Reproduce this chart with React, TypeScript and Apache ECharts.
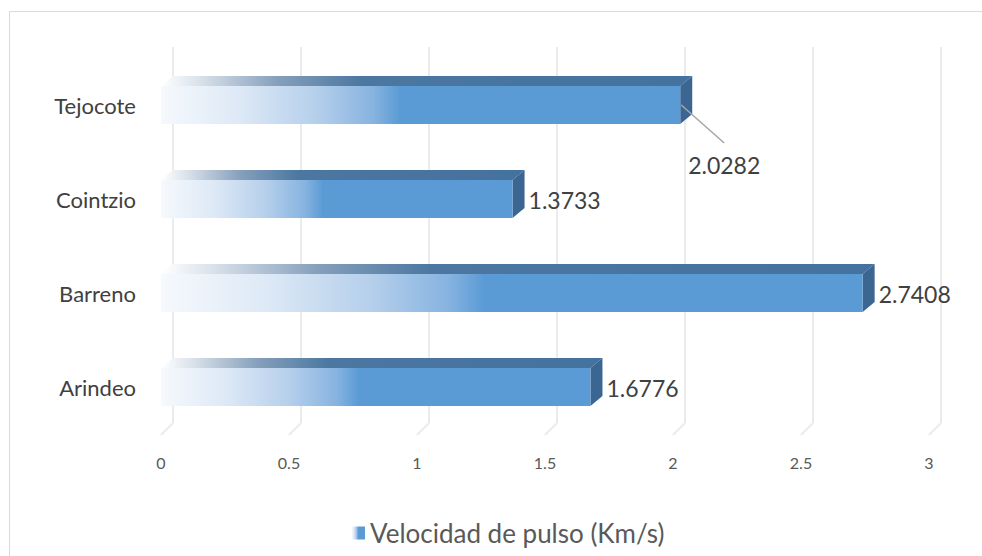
import React, { useEffect, useRef } from "react";
import * as echarts from "echarts";

const CATEGORIES = ["Arindeo", "Barreno", "Cointzio", "Tejocote"];
const VALUES = [1.6776, 2.7408, 1.3733, 2.0282];
const TICKS = [0, 0.5, 1, 1.5, 2, 2.5, 3];
const SERIES_NAME = "Velocidad de pulso (Km/s)";
const LEADER_CATEGORY = "Tejocote";

const FONT = "Lato, 'Open Sans', sans-serif";
const DEPTH_X = 12;
const DEPTH_Y = -10;
const BAR_H = 38;

const frontGradient = () =>
  new echarts.graphic.LinearGradient(0, 0, 1, 0, [
    { offset: 0, color: "#F6F9FD" },
    { offset: 0.15, color: "#DDE9F6" },
    { offset: 0.3, color: "#B5CFEB" },
    { offset: 0.41, color: "#86B3E0" },
    { offset: 0.46, color: "#5B9BD5" },
    { offset: 1, color: "#5B9BD5" },
  ]);

const topGradient = () =>
  new echarts.graphic.LinearGradient(0, 0, 1, 0, [
    { offset: 0, color: "#FFFFFF" },
    { offset: 0.08, color: "#D5DEE8" },
    { offset: 0.22, color: "#859FBB" },
    { offset: 0.38, color: "#4B77A1" },
    { offset: 1, color: "#44729E" },
  ]);

export default function App() {
  const ref = useRef<HTMLDivElement>(null);

  useEffect(() => {
    if (!ref.current) return;
    const chart = echarts.init(ref.current, null, { renderer: "svg" });

    const barData = VALUES.map((v, i) => [v, i]);
    const tickData = TICKS.map((t) => [t, 0]);

    const option: any = {
      animation: false,
      backgroundColor: "#FFFFFF",
      graphic: [
        {
          type: "rect",
          shape: { x: 9.5, y: 11.5, width: 1000, height: 600 },
          style: { fill: "none", stroke: "#D9D9D9", lineWidth: 1 },
          silent: true,
          z: -10,
        },
      ],
      legend: {
        data: [{ name: SERIES_NAME, icon: "rect" }],
        left: 352,
        top: 520,
        padding: 0,
        itemWidth: 13,
        itemHeight: 13,
        itemGap: 5,
        textStyle: { fontSize: 26, color: "#595959", fontFamily: FONT },
      },
      grid: [
        { left: 161, right: 53, top: 58, bottom: 122 },
        { left: 173, right: 41, top: 47, bottom: 133 },
      ],
      xAxis: [
        {
          type: "value",
          gridIndex: 0,
          min: 0,
          max: 3,
          interval: 0.5,
          axisLine: { show: false },
          axisTick: { show: false },
          splitLine: { show: false },
          axisLabel: {
            color: "#595959",
            fontSize: 16,
            fontFamily: FONT,
            margin: 20,
          },
        },
        {
          type: "value",
          gridIndex: 1,
          min: 0,
          max: 3,
          interval: 0.5,
          axisLine: { show: false },
          axisTick: { show: false },
          axisLabel: { show: false },
          splitLine: { show: true, lineStyle: { color: "#EBEBEB", width: 2 } },
        },
      ],
      yAxis: [
        {
          type: "category",
          gridIndex: 0,
          data: CATEGORIES,
          axisLine: { show: false },
          axisTick: { show: false },
          splitLine: { show: false },
          axisLabel: {
            color: "#404040",
            fontSize: 22,
            fontFamily: FONT,
            margin: 25,
          },
        },
        {
          type: "value",
          gridIndex: 1,
          min: 0,
          max: 1,
          show: false,
        },
      ],
      series: [
        {
          type: "custom",
          name: "floor",
          xAxisIndex: 1,
          yAxisIndex: 1,
          data: tickData,
          silent: true,
          z: 1,
          renderItem: (params: any, api: any) => {
            const p = api.coord([api.value(0), 0]);
            return {
              type: "line",
              shape: { x1: p[0], y1: p[1], x2: p[0] - 12, y2: p[1] + 12 },
              style: { stroke: "#EBEBEB", lineWidth: 2 },
            };
          },
        },
        {
          type: "custom",
          name: SERIES_NAME,
          xAxisIndex: 0,
          yAxisIndex: 0,
          data: barData,
          encode: { x: 0, y: 1 },
          itemStyle: { color: frontGradient() },
          z: 5,
          renderItem: (params: any, api: any) => {
            const v = api.value(0);
            const ci = api.value(1);
            const end = api.coord([v, ci]);
            const start = api.coord([0, ci]);
            const x0 = start[0];
            const x1 = end[0];
            const yc = end[1];
            const top = yc - BAR_H / 2;
            const bottom = yc + BAR_H / 2;
            const label = v.toFixed(4);
            const children: any[] = [
              {
                type: "polygon",
                shape: {
                  points: [
                    [x0, top],
                    [x1, top],
                    [x1 + DEPTH_X, top + DEPTH_Y],
                    [x0 + DEPTH_X, top + DEPTH_Y],
                  ],
                },
                style: { fill: topGradient() },
              },
              {
                type: "polygon",
                shape: {
                  points: [
                    [x1, top],
                    [x1 + DEPTH_X, top + DEPTH_Y],
                    [x1 + DEPTH_X, bottom + DEPTH_Y],
                    [x1, bottom],
                  ],
                },
                style: { fill: "#3A6691" },
              },
              {
                type: "rect",
                shape: { x: x0, y: top, width: x1 - x0, height: BAR_H },
                style: { fill: frontGradient() },
              },
            ];
            if (CATEGORIES[ci] === LEADER_CATEGORY) {
              children.push({
                type: "line",
                shape: { x1: x1 + 1, y1: yc, x2: x1 + 44, y2: yc + 38 },
                style: { stroke: "#A6A6A6", lineWidth: 1.5 },
              });
              children.push({
                type: "text",
                style: {
                  text: label,
                  x: x1 + 44,
                  y: yc + 60,
                  align: "center",
                  verticalAlign: "middle",
                  fill: "#404040",
                  fontSize: 23,
                  fontFamily: FONT,
                },
              });
            } else {
              children.push({
                type: "text",
                style: {
                  text: label,
                  x: x1 + 16,
                  y: yc + 1,
                  align: "left",
                  verticalAlign: "middle",
                  fill: "#404040",
                  fontSize: 23,
                  fontFamily: FONT,
                },
              });
            }
            return { type: "group", children };
          },
        },
      ],
    };

    chart.setOption(option);
    return () => chart.dispose();
  }, []);

  return (
    <div
      ref={ref}
      style={{ position: "fixed", left: 0, top: 0, width: 982, height: 556 }}
    />
  );
}
